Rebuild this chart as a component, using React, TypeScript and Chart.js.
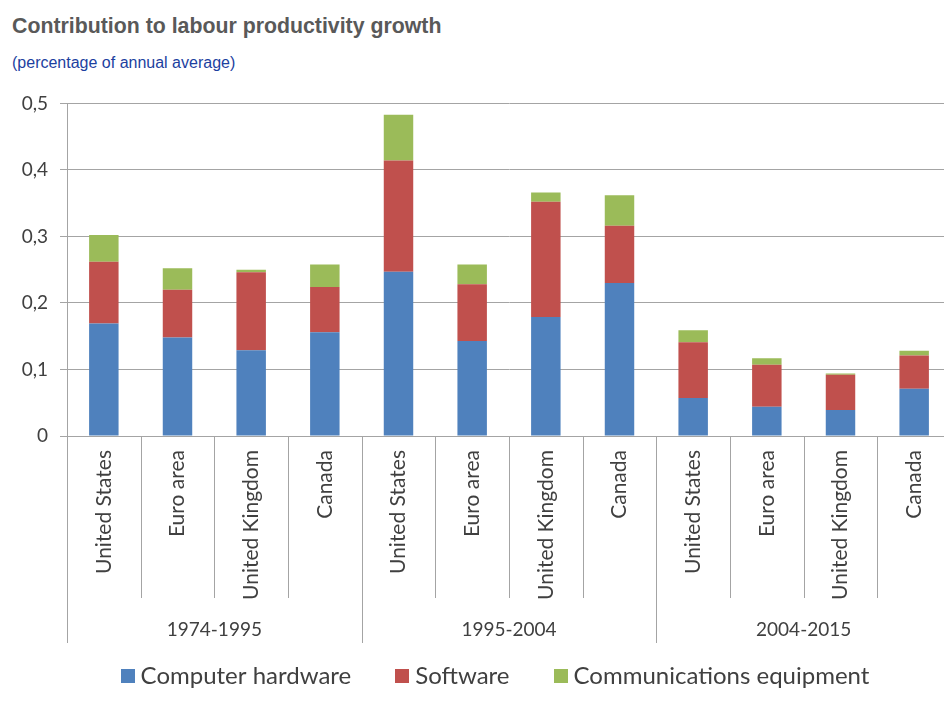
import React, { useEffect, useRef } from "react";
import { Chart, registerables } from "chart.js";

Chart.register(...registerables);

const periods = ["1974-1995", "1995-2004", "2004-2015"];
const countries = ["United States", "Euro area", "United Kingdom", "Canada"];
const categories = periods.flatMap(() => countries);

const computerHardware = [0.169, 0.148, 0.129, 0.156, 0.247, 0.143, 0.179, 0.23, 0.057, 0.044, 0.039, 0.071];
const software = [0.093, 0.072, 0.117, 0.068, 0.167, 0.085, 0.173, 0.086, 0.084, 0.063, 0.053, 0.05];
const communicationsEquipment = [0.04, 0.032, 0.004, 0.034, 0.069, 0.03, 0.014, 0.046, 0.018, 0.01, 0.002, 0.007];

const yTicks = [0, 0.1, 0.2, 0.3, 0.4, 0.5];

const LABEL_FONT = "Lato, 'Open Sans', sans-serif";
const GRID = "#a4a4a4";
const TEXT = "#404040";

const groupPlugin = {
  id: "groupPlugin",
  afterDraw(chart: any) {
    const { ctx, chartArea, scales } = chart;
    const x = scales.x;
    const n = categories.length;
    const per = countries.length;
    const half = (x.getPixelForValue(1) - x.getPixelForValue(0)) / 2;
    ctx.save();
    ctx.strokeStyle = GRID;
    ctx.lineWidth = 1;
    for (let i = 0; i <= n; i++) {
      const px = Math.round(x.getPixelForValue(i) - half) + 0.5;
      const isGroup = i % per === 0;
      const len = isGroup ? 207 : 162;
      ctx.beginPath();
      ctx.moveTo(px, chartArea.bottom);
      ctx.lineTo(px, chartArea.bottom + len);
      ctx.stroke();
    }
    ctx.fillStyle = TEXT;
    ctx.font = `19px ${LABEL_FONT}`;
    ctx.textAlign = "center";
    ctx.textBaseline = "middle";
    periods.forEach((p, g) => {
      const a = x.getPixelForValue(g * per) - half;
      const b = x.getPixelForValue(g * per + per - 1) + half;
      ctx.fillText(p, (a + b) / 2, chartArea.bottom + 194);
    });

    // legend
    const box = 14;
    const gapBoxText = 6;
    const gapItems = 44;
    ctx.font = `24px ${LABEL_FONT}`;
    ctx.textAlign = "left";
    const items = chart.data.datasets.map((d: any) => ({
      label: d.label,
      color: d.backgroundColor,
      w: ctx.measureText(d.label).width,
    }));
    const total = items.reduce((s: number, it: any) => s + box + gapBoxText + it.w, 0) + gapItems * (items.length - 1);
    const cx = (chartArea.left + chartArea.right) / 2 - 14;
    const cy = chartArea.bottom + 240;
    let cur = cx - total / 2;
    items.forEach((it: any) => {
      ctx.fillStyle = it.color;
      ctx.fillRect(Math.round(cur), Math.round(cy - box / 2), box, box);
      cur += box + gapBoxText;
      ctx.fillStyle = TEXT;
      ctx.fillText(it.label, cur, cy);
      cur += it.w + gapItems;
    });
    ctx.restore();
  },
};

export default function App() {
  const ref = useRef<HTMLCanvasElement>(null);
  useEffect(() => {
    if (!ref.current) return;
    const chart = new Chart(ref.current, {
      type: "bar",
      data: {
        labels: categories,
        datasets: [
          { label: "Computer hardware", data: computerHardware, backgroundColor: "#4f81bd" },
          { label: "Software", data: software, backgroundColor: "#c0504d" },
          { label: "Communications equipment", data: communicationsEquipment, backgroundColor: "#9bbb59" },
        ],
      },
      options: {
        animation: false,
        responsive: false,
        maintainAspectRatio: false,
        layout: { padding: { top: 21, left: 10, right: 9, bottom: 0 } },
        datasets: { bar: { categoryPercentage: 1, barPercentage: 0.4 } } as any,
        plugins: {
          title: { display: false },
          tooltip: { enabled: false },
          legend: { display: false },
        },
        scales: {
          x: {
            stacked: true,
            afterFit: (s: any) => {
              s.height = 267;
            },
            grid: { display: false, drawOnChartArea: false, drawTicks: false },
            border: { display: false },
            ticks: {
              autoSkip: false,
              minRotation: 90,
              maxRotation: 90,
              padding: 14,
              color: TEXT,
              font: { family: LABEL_FONT, size: 21 },
            },
          },
          y: {
            stacked: true,
            min: yTicks[0],
            max: yTicks[yTicks.length - 1],
            afterFit: (s: any) => {
              s.width = 57;
            },
            afterBuildTicks: (s: any) => {
              s.ticks = yTicks.map((v) => ({ value: v }));
            },
            grid: { color: GRID, tickLength: 7, lineWidth: 1 },
            border: { display: true, color: GRID },
            ticks: {
              padding: 12,
              color: TEXT,
              font: { family: LABEL_FONT, size: 19 },
              callback: (v: any) => (Number(v) === 0 ? "0" : Number(v).toFixed(1).replace(".", ",")),
            },
          },
        },
      },
      plugins: [groupPlugin],
    });
    return () => chart.destroy();
  }, []);

  return (
    <div style={{ position: "fixed", top: 0, left: 0, width: 960, height: 703, background: "#fff", overflow: "hidden" }}>
      <div
        style={{
          position: "absolute",
          left: 12,
          top: 14,
          fontFamily: "'Liberation Sans', Arial, sans-serif",
          fontWeight: "bold",
          fontSize: 21.3,
          lineHeight: "24px",
          color: "#595959",
          whiteSpace: "nowrap",
        }}
      >
        Contribution to labour productivity growth
      </div>
      <div
        style={{
          position: "absolute",
          left: 12,
          top: 54,
          fontFamily: "'Liberation Sans', Arial, sans-serif",
          fontSize: 16,
          lineHeight: "18px",
          color: "#1c3fa0",
          whiteSpace: "nowrap",
        }}
      >
        (percentage of annual average)
      </div>
      <canvas ref={ref} width={960} height={623} style={{ position: "absolute", left: 0, top: 80, width: 960, height: 623 }} />
    </div>
  );
}
